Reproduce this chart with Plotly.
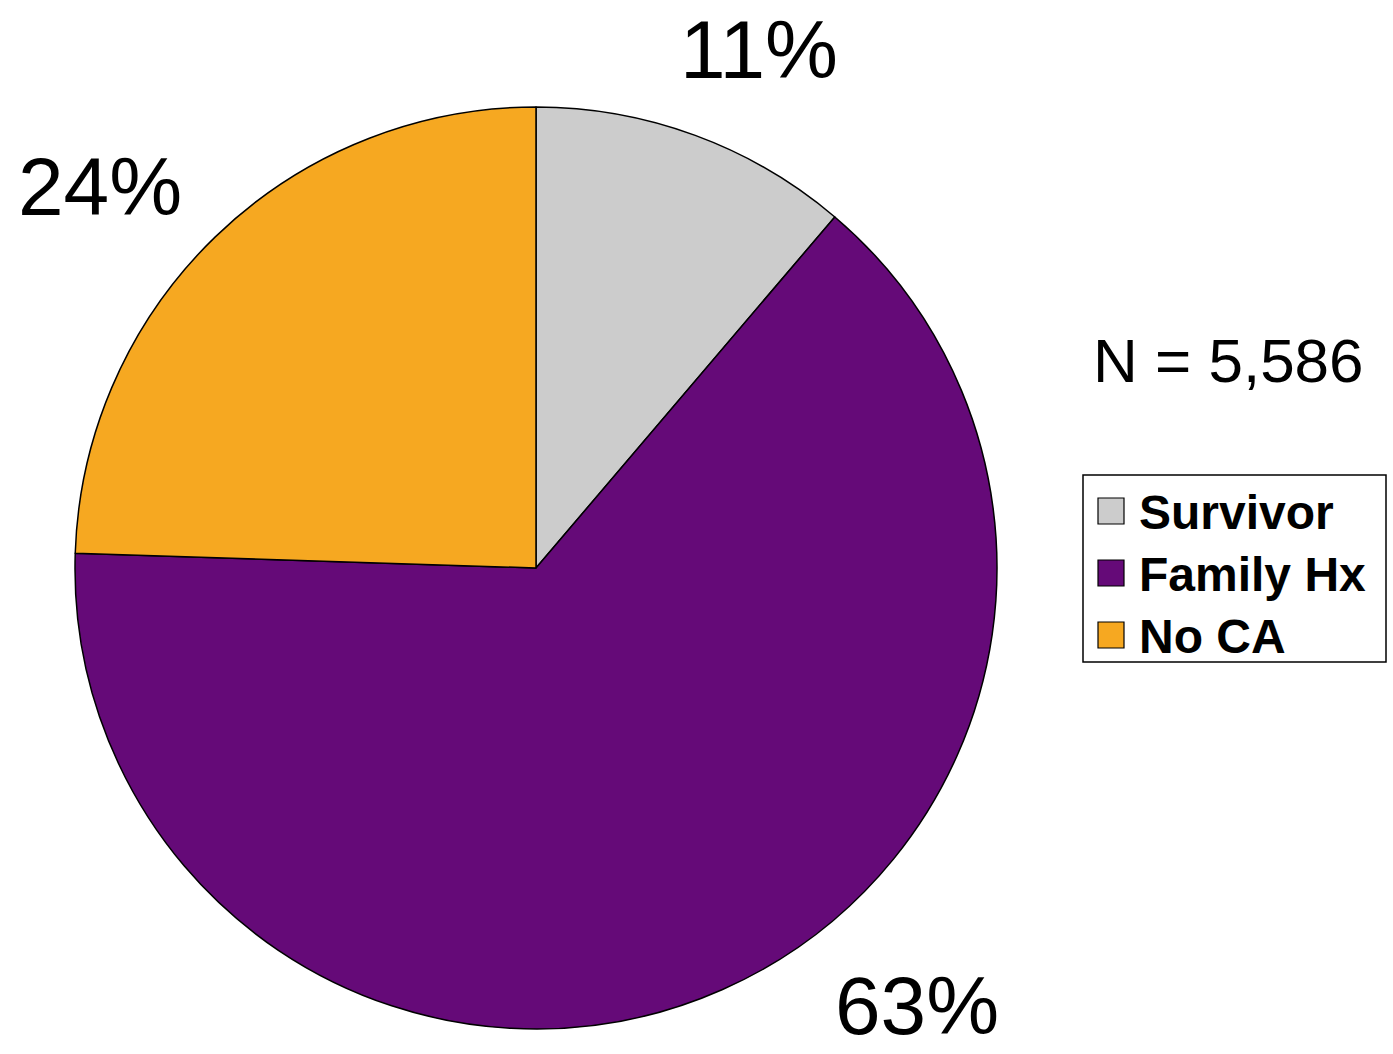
import plotly.graph_objects as go

# Share of participants by cancer history group
categories = ["Survivor", "Family Hx", "No CA"]
percent = [11, 63, 24]
colors = ["#CCCCCC", "#650A78", "#F6A821"]
sample_note = "N = 5,586"

W, H = 1393, 1054
FONT = "Liberation Sans, Arial, sans-serif"


def px(x):
    return x / W


def py(y):
    return 1 - y / H


fig = go.Figure(
    go.Pie(
        labels=categories,
        values=percent,
        marker=dict(colors=colors, line=dict(color="black", width=1.5)),
        sort=False,
        direction="clockwise",
        rotation=0,
        textinfo="none",
        hoverinfo="skip",
        showlegend=False,
        domain=dict(x=[px(75), px(997)], y=[py(1029), py(107)]),
    )
)

# Percentage labels placed outside each slice (same order as categories)
label_pos = [(759, 49), (917, 1005), (100, 186)]
annotations = []
for v, (lx, ly) in zip(percent, label_pos):
    annotations.append(
        dict(
            x=px(lx), y=py(ly), xref="paper", yref="paper",
            text=f"{v}%", showarrow=False,
            xanchor="center", yanchor="middle",
            font=dict(family=FONT, size=82, color="black"),
        )
    )

annotations.append(
    dict(
        x=px(1228), y=py(360), xref="paper", yref="paper",
        text=sample_note, showarrow=False,
        xanchor="center", yanchor="middle",
        font=dict(family=FONT, size=62, color="black"),
    )
)

# Legend box with square swatches
shapes = [
    dict(
        type="rect", xref="paper", yref="paper",
        x0=px(1083), x1=px(1386), y0=py(662), y1=py(475),
        line=dict(color="black", width=1.5), fillcolor="white",
        layer="below",
    )
]
row_y = [511, 573, 635]
for name, col, ry in zip(categories, colors, row_y):
    shapes.append(
        dict(
            type="rect", xref="paper", yref="paper",
            x0=px(1098), x1=px(1124), y0=py(ry + 13), y1=py(ry - 13),
            line=dict(color="black", width=1.2), fillcolor=col,
        )
    )
    annotations.append(
        dict(
            x=px(1137), y=py(ry + 1), xref="paper", yref="paper",
            text=f"<b>{name}</b>", showarrow=False,
            xanchor="left", yanchor="middle",
            font=dict(family=FONT, size=48, color="black"),
        )
    )

fig.update_layout(
    width=W, height=H,
    margin=dict(l=0, r=0, t=0, b=0),
    paper_bgcolor="white",
    plot_bgcolor="white",
    annotations=annotations,
    shapes=shapes,
)

fig.write_html("out.html")
